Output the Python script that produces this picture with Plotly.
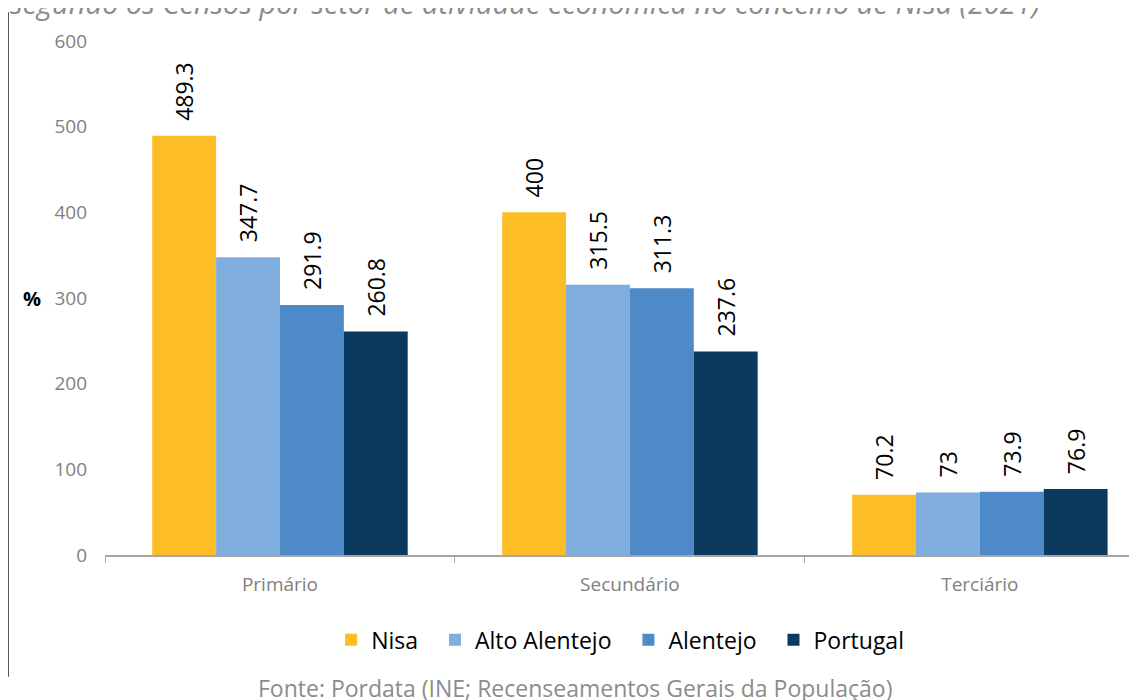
import plotly.graph_objects as go

categories = ["Primário", "Secundário", "Terciário"]
nisa = [489.3, 400, 70.2]
alto_alentejo = [347.7, 315.5, 73]
alentejo = [291.9, 311.3, 73.9]
portugal = [260.8, 237.6, 76.9]

series = [
    ("Nisa", nisa, "#FCBD27"),
    ("Alto Alentejo", alto_alentejo, "#7FADDD"),
    ("Alentejo", alentejo, "#4F8AC8"),
    ("Portugal", portugal, "#0B3A5E"),
]

font = "Open Sans, sans-serif"
pad = "\u00a0\u00a0"

fig = go.Figure()
for name, values, color in series:
    fig.add_trace(
        go.Bar(
            x=categories,
            y=values,
            name=name + pad,  # widen the gap between legend entries
            marker=dict(color=color, line=dict(width=0)),
            # leading non-breaking spaces push the rotated label off the bar top
            text=[pad + f"{v:g}" for v in values],
            textposition="outside",
            textangle=-90,
            constraintext="none",
            textfont=dict(family=font, size=23, color="#000000"),
            cliponaxis=False,
        )
    )

# the page body has an 8px margin, so the figure is 8px smaller than the window
fig.update_layout(
    width=1129,
    height=692,
    barmode="group",
    bargap=0.27,
    bargroupgap=0,
    plot_bgcolor="white",
    paper_bgcolor="white",
    margin=dict(l=97, r=0, t=33, b=145),
    font=dict(family=font, color="#7F7F7F"),
    legend=dict(
        orientation="h",
        x=0.505,
        xanchor="center",
        y=-0.165,
        yanchor="middle",
        font=dict(family=font, size=23, color="#000000"),
    ),
    xaxis=dict(
        range=[-0.5, 2.449],
        showline=True,
        linecolor="#A6A6A6",
        linewidth=1.5,
        ticks="outside",
        tickson="boundaries",
        ticklen=6,
        tickcolor="#A6A6A6",
        ticklabelstandoff=11,
        tickfont=dict(family=font, size=19, color="#7F7F7F"),
    ),
    yaxis=dict(
        range=[0, 600],
        dtick=100,
        showgrid=False,
        zeroline=False,
        showline=False,
        ticks="",
        ticklabelstandoff=17,
        tickfont=dict(family=font, size=19, color="#7F7F7F"),
    ),
)

fig.add_annotation(
    text="<b>%</b>",
    xref="paper",
    yref="y",
    x=-0.081,
    y=300,
    showarrow=False,
    font=dict(family=font, size=20, color="#000000"),
)

fig.add_annotation(
    text="Fonte: Pordata (INE; Recenseamentos Gerais da População)",
    xref="paper",
    yref="paper",
    x=0.455,
    y=-0.259,
    yanchor="middle",
    showarrow=False,
    font=dict(family=font, size=23, color="#8C8C8C"),
)

fig.add_annotation(
    text="<i>segundo os Censos por setor de atividade económica no concelho de Nisa (2021)</i>",
    xref="paper",
    yref="paper",
    x=0.407,
    y=1.074,
    yanchor="middle",
    showarrow=False,
    font=dict(family=font, size=29, color="#8C8C8C"),
)

fig.add_shape(
    type="line",
    xref="paper",
    yref="paper",
    x0=-0.0935,
    x1=-0.0935,
    y0=1.056,
    y1=-0.237,
    line=dict(color="#595959", width=1),
)

fig.write_html("out.html")
